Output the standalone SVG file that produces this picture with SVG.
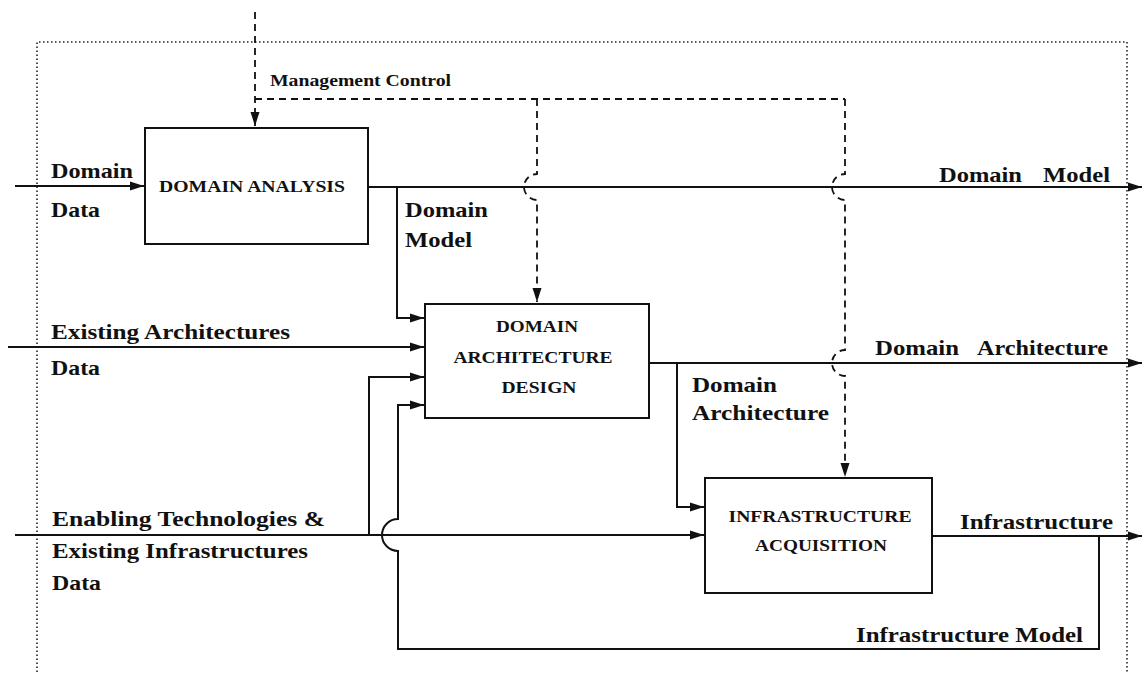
<svg xmlns="http://www.w3.org/2000/svg" width="1143" height="676" viewBox="0 0 1143 676">
<style>
.bg{fill:#fff}
.frame{fill:none;stroke:#222;stroke-width:1.6;stroke-dasharray:1.5,2.5}
.box{fill:#fff;stroke:#111;stroke-width:2}
.ln{fill:none;stroke:#111;stroke-width:2}
.dash{fill:none;stroke:#111;stroke-width:1.8;stroke-dasharray:7,5}
.lab{font-family:"Liberation Serif","Times New Roman",serif;font-weight:bold;font-size:21px;fill:#111}
.bt{font-family:"Liberation Serif","Times New Roman",serif;font-weight:bold;font-size:17px;fill:#111;text-anchor:middle}
.mc{font-family:"Liberation Serif","Times New Roman",serif;font-weight:bold;font-size:16px;fill:#111}
</style>
<defs>
<marker id="ah" markerUnits="userSpaceOnUse" markerWidth="16" markerHeight="12" refX="14" refY="6" orient="auto">
<path d="M0,1.5 L14,6 L0,10.5 Z" fill="#111"/>
</marker>
</defs>
<rect class="bg" x="0" y="0" width="1143" height="676"/>
<path class="frame" d="M37,672 V42 H1127 V672"/>
<g id="connectors">
<path class="dash" d="M255,12 V126" marker-end="url(#ah)"/>
<path class="dash" d="M255,99 H845"/>
<path class="dash" d="M537,99 V174 A13,13 0 0 0 537,200 V302" marker-end="url(#ah)"/>
<path class="dash" d="M845,99 V174 A13,13 0 0 0 845,200 V350 A13,13 0 0 0 845,376 V477" marker-end="url(#ah)"/>
<path class="ln" d="M15,186 H144" marker-end="url(#ah)"/>
<path class="ln" d="M8,347 H424" marker-end="url(#ah)"/>
<path class="ln" d="M15,535 H704" marker-end="url(#ah)"/>
<path class="ln" d="M369,187 H1142" marker-end="url(#ah)"/>
<path class="ln" d="M397,187 V318 H424" marker-end="url(#ah)"/>
<path class="ln" d="M369,535 V377 H424" marker-end="url(#ah)"/>
<path class="ln" d="M649,363 H1142" marker-end="url(#ah)"/>
<path class="ln" d="M677,363 V507 H704" marker-end="url(#ah)"/>
<path class="ln" d="M932,536 H1142" marker-end="url(#ah)"/>
<path class="ln" d="M1099,536 V649 H398 V551 A16,16 0 0 1 398,519 V405 H424" marker-end="url(#ah)"/>
</g>
<g id="domain-analysis">
<rect class="box" x="145" y="128" width="223" height="116"/>
<text class="bt" x="252" y="192" textLength="186" lengthAdjust="spacingAndGlyphs">DOMAIN ANALYSIS</text>
</g>
<g id="domain-architecture-design">
<rect class="box" x="425" y="304" width="224" height="114"/>
<text class="bt" x="537" y="332" textLength="82" lengthAdjust="spacingAndGlyphs">DOMAIN</text>
<text class="bt" x="533" y="363" textLength="159" lengthAdjust="spacingAndGlyphs">ARCHITECTURE</text>
<text class="bt" x="539" y="393" textLength="75" lengthAdjust="spacingAndGlyphs">DESIGN</text>
</g>
<g id="infrastructure-acquisition">
<rect class="box" x="705" y="478" width="227" height="115"/>
<text class="bt" x="820" y="522" textLength="183" lengthAdjust="spacingAndGlyphs">INFRASTRUCTURE</text>
<text class="bt" x="821" y="551" textLength="132" lengthAdjust="spacingAndGlyphs">ACQUISITION</text>
</g>
<g id="labels">
<text class="mc" x="270" y="86" textLength="181" lengthAdjust="spacingAndGlyphs">Management Control</text>
<text class="lab" x="51" y="178" textLength="82" lengthAdjust="spacingAndGlyphs">Domain</text>
<text class="lab" x="51" y="217" textLength="49" lengthAdjust="spacingAndGlyphs">Data</text>
<text class="lab" x="405" y="217" textLength="83" lengthAdjust="spacingAndGlyphs">Domain</text>
<text class="lab" x="405" y="247" textLength="67" lengthAdjust="spacingAndGlyphs">Model</text>
<text class="lab" y="182"><tspan x="939" textLength="83" lengthAdjust="spacingAndGlyphs">Domain</tspan><tspan x="1043" textLength="67" lengthAdjust="spacingAndGlyphs">Model</tspan></text>
<text class="lab" x="51" y="339" textLength="239" lengthAdjust="spacingAndGlyphs">Existing Architectures</text>
<text class="lab" x="51" y="375" textLength="49" lengthAdjust="spacingAndGlyphs">Data</text>
<text class="lab" y="355"><tspan x="875" textLength="84" lengthAdjust="spacingAndGlyphs">Domain</tspan><tspan x="977" textLength="131" lengthAdjust="spacingAndGlyphs">Architecture</tspan></text>
<text class="lab" x="692" y="392" textLength="85" lengthAdjust="spacingAndGlyphs">Domain</text>
<text class="lab" x="692" y="420" textLength="137" lengthAdjust="spacingAndGlyphs">Architecture</text>
<text class="lab" x="52" y="526" textLength="273" lengthAdjust="spacingAndGlyphs">Enabling Technologies &amp;</text>
<text class="lab" x="52" y="558" textLength="256" lengthAdjust="spacingAndGlyphs">Existing Infrastructures</text>
<text class="lab" x="52" y="590" textLength="49" lengthAdjust="spacingAndGlyphs">Data</text>
<text class="lab" x="960" y="529" textLength="153" lengthAdjust="spacingAndGlyphs">Infrastructure</text>
<text class="lab" x="856" y="642" textLength="227" lengthAdjust="spacingAndGlyphs">Infrastructure Model</text>
</g>
</svg>
